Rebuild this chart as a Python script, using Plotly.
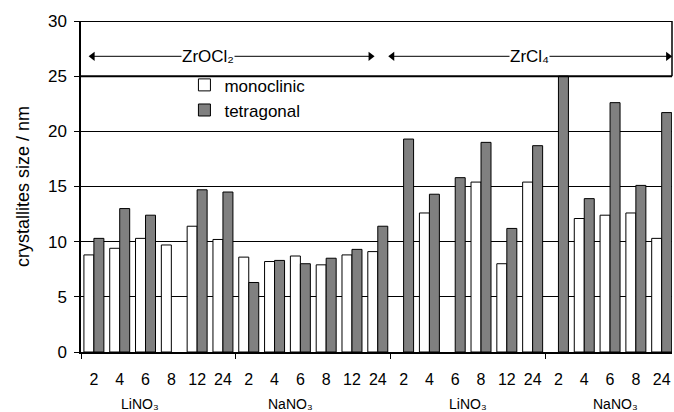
import plotly.graph_objects as go

# Reaction time (h) for each sample, grouped by salt melt and zirconium precursor
time_labels = ["2", "4", "6", "8", "12", "24",
               "2", "4", "6", "8", "12", "24",
               "2", "4", "6", "8", "12", "24",
               "2", "4", "6", "8", "24"]

# Crystallite sizes (nm); None = phase not detected
monoclinic = [8.8, 9.4, 10.3, 9.7, 11.4, 10.2,
              8.6, 8.2, 8.7, 7.9, 8.8, 9.1,
              None, 12.6, None, 15.4, 8.0, 15.4,
              None, 12.1, 12.4, 12.6, 10.3]
tetragonal = [10.3, 13.0, 12.4, None, 14.7, 14.5,
              6.3, 8.3, 8.0, 8.5, 9.3, 11.4,
              19.3, 14.3, 15.8, 19.0, 11.2, 18.7,
              25.0, 13.9, 22.6, 15.1, 21.7]

salt_labels = ["LiNO₃", "NaNO₃", "LiNO₃", "NaNO₃"]
salt_label_x = [1.8, 7.6, 14.5, 20.2]
group_edges = [-0.5, 5.5, 11.5, 17.5]

precursors = ["ZrOCl₂", "ZrCl₄"]
precursor_label_x = [4.43, 16.86]
precursor_spans = [(-0.05, 10.72), (11.56, 22.25)]
arrow_y = 26.8

FONT = "Liberation Sans, Arial, sans-serif"
x = list(range(len(time_labels)))

fig = go.Figure()
fig.add_trace(go.Bar(x=x, y=monoclinic, name="monoclinic",
                     marker=dict(color="white", line=dict(color="black", width=1))))
fig.add_trace(go.Bar(x=x, y=tetragonal, name="tetragonal",
                     marker=dict(color="#808080", line=dict(color="black", width=1))))

# Precursor brackets: double-headed arrows with the precursor name on top
for (x0, x1), lab, lx in zip(precursor_spans, precursors, precursor_label_x):
    fig.add_trace(go.Scatter(x=[x0, x1], y=[arrow_y, arrow_y], mode="lines+markers",
                             line=dict(color="black", width=1),
                             marker=dict(symbol=["triangle-left", "triangle-right"],
                                         size=8, color="black"),
                             showlegend=False, hoverinfo="skip"))
    fig.add_annotation(x=lx, y=arrow_y, xref="x", yref="y", text=lab,
                       showarrow=False, bgcolor="white", borderpad=0,
                       font=dict(family=FONT, size=17, color="black"))

# Salt melt labels under each group
for lab, lx in zip(salt_labels, salt_label_x):
    fig.add_annotation(x=lx, y=-0.157, xref="x", yref="paper", text=lab,
                       showarrow=False, yanchor="middle",
                       font=dict(family=FONT, size=14, color="black"))

# Heavier frame lines for the header band between 25 and 30
for yv in (25, 30):
    fig.add_shape(type="line", xref="paper", yref="y", x0=0, x1=1, y0=yv, y1=yv,
                  line=dict(color="black", width=2))
fig.add_shape(type="line", xref="paper", yref="y", x0=1, x1=1, y0=25, y1=30,
              line=dict(color="black", width=1.5))

fig.update_layout(
    width=674, height=412,
    margin=dict(l=81, r=2, t=21, b=60),
    paper_bgcolor="white", plot_bgcolor="white",
    barmode="group", bargap=0.226, bargroupgap=0,
    font=dict(family=FONT, size=16, color="black"),
    showlegend=True,
    legend=dict(x=0.175, y=0.86, xanchor="left", yanchor="top",
                bgcolor="rgba(0,0,0,0)", font=dict(family=FONT, size=17),
                itemwidth=30, tracegroupgap=0),
    xaxis=dict(range=[-0.5, 22.4], tickmode="array", tickvals=x,
               ticktext=time_labels, ticks="", showgrid=False, zeroline=False,
               showline=True, linecolor="black", linewidth=1.5,
               ticklabelstandoff=12, tickfont=dict(size=16),
               minor=dict(tickmode="array", tickvals=group_edges, ticks="outside",
                          ticklen=5, tickcolor="black", tickwidth=1, showgrid=False)),
    yaxis=dict(range=[0, 30], tickmode="array", tickvals=[0, 5, 10, 15, 20, 25, 30],
               showgrid=True, gridcolor="black", gridwidth=1, zeroline=False,
               showline=True, linecolor="black", linewidth=1.5,
               ticks="outside", ticklen=5, tickcolor="black",
               tickfont=dict(size=17), ticklabelstandoff=4,
               title=dict(text="crystallites size / nm", font=dict(size=18),
                          standoff=14)),
)

fig.write_html("out.html")
